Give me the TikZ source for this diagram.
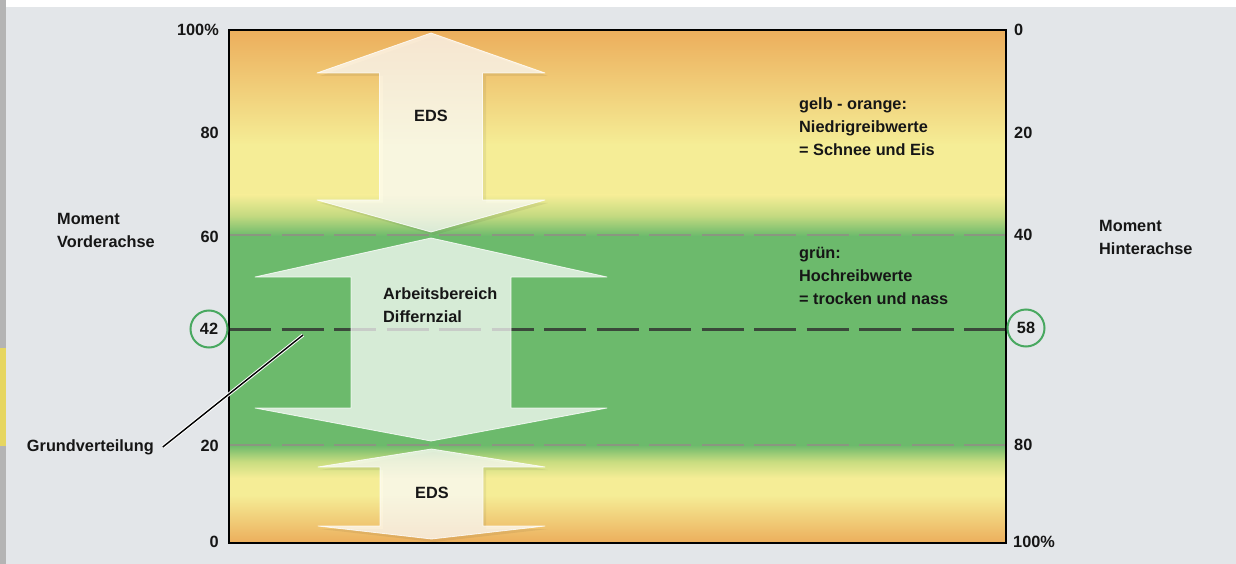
\documentclass[tikz,border=0pt]{standalone}
\usepackage{fontspec}
\setmainfont{Liberation Sans}
\definecolor{bg}{RGB}{227,230,233}
\definecolor{strip}{RGB}{180,180,180}
\definecolor{stripy}{RGB}{230,214,96}
\definecolor{orng}{RGB}{236,174,92}
\definecolor{yell}{RGB}{245,237,150}
\definecolor{grn}{RGB}{108,186,108}
\definecolor{txt}{RGB}{22,22,22}
\definecolor{circg}{RGB}{72,168,96}
\definecolor{dashlight}{RGB}{138,150,128}
\definecolor{dashdark}{RGB}{58,72,58}
\begin{document}
\begin{tikzpicture}[x=1pt,y=-1pt,
  lbl/.style={font=\bfseries\fontsize{16.3}{23}\selectfont, text=txt, inner sep=0pt},
  circ/.style={lbl, circle, draw=circg, line width=2pt, minimum size=37pt},
  gridline/.style={draw=dashlight, line width=2pt, dash pattern=on 42pt off 10.5pt},
  baseline42/.style={draw=dashdark, line width=3pt, dash pattern=on 42pt off 10.5pt},
  bigarrow/.style={fill=white, fill opacity=0.72, draw=white, draw opacity=0.8, line width=0.8pt, line join=round}]
\useasboundingbox (0,0) rectangle (1236,564);
% page
\fill[bg] (0,0) rectangle (1236,564);
\fill[white] (6,0) rectangle (1236,7);
\fill[strip] (0,0) rectangle (6,564);
\fill[stripy] (0,348) rectangle (6,446);
% chart bands
\shade[top color=orng, bottom color=yell] (229,30) rectangle (1006,145);
\fill[yell] (229,144.5) rectangle (1006,195.5);
\shade[top color=yell, bottom color=grn, middle color={rgb,255:red,196;green,218;blue,128}] (229,195) rectangle (1006,236);
\fill[grn] (229,235.5) rectangle (1006,445.5);
\shade[top color=grn, bottom color=yell, middle color={rgb,255:red,200;green,220;blue,128}] (229,445) rectangle (1006,478);
\fill[yell] (229,477.5) rectangle (1006,495.5);
\shade[top color=yell, bottom color=orng] (229,495) rectangle (1006,543);
% grid lines
\draw[gridline] (229,235) -- (1006,235);
\draw[gridline] (229,445) -- (1006,445);
\draw[baseline42] (229,329) -- (1006,329);
% arrows
\fill[black, opacity=0.06] (434,36) -- (548,76) -- (486,76) -- (486,203) -- (548,203) -- (434,235) -- (320,203) -- (383,203) -- (383,76) -- (320,76) -- cycle;
\path[bigarrow] (431,33) -- (545,73) -- (482.5,73) -- (482.5,200) -- (545,200) -- (431,232) -- (317,200) -- (379.5,200) -- (379.5,73) -- (317,73) -- cycle;
\path[bigarrow] (431,238) -- (607,277) -- (511,277) -- (511,408) -- (607,408) -- (431,441) -- (255,408) -- (351,408) -- (351,277) -- (255,277) -- cycle;
\fill[black, opacity=0.06] (434,452) -- (548,470) -- (486,470) -- (486,529) -- (548,529) -- (434,542) -- (320,529) -- (383,529) -- (383,470) -- (320,470) -- cycle;
\path[bigarrow] (431.5,449) -- (545,467) -- (483,467) -- (483,526) -- (545,526) -- (431.5,539) -- (318,526) -- (380,526) -- (380,467) -- (318,467) -- cycle;
% chart border
\draw[black, line width=2.6pt] (229,30) rectangle (1006,543);
% left axis
\node[lbl, anchor=east] (l100) at (219,30) {100\%};
\node[lbl, anchor=east] (l80) at (219,133) {80};
\node[lbl, anchor=east] (l60) at (219,237) {60};
\node[lbl, anchor=east] (l20) at (219,446) {20};
\node[lbl, anchor=east] (l0) at (219,542) {0};
\node[circ] (c42) at (209,329) {42};
% right axis
\node[lbl, anchor=west] (r0) at (1014,30) {0};
\node[lbl, anchor=west] (r20) at (1014,133) {20};
\node[lbl, anchor=west] (r40) at (1014,235) {40};
\node[lbl, anchor=west] (r80) at (1014,445) {80};
\node[lbl, anchor=west] (r100) at (1013,542) {100\%};
\node[circ] (c58) at (1026,328) {58};
% side titles
\node[lbl, align=left, anchor=north west] (mv) at (57,213) {Moment\\Vorderachse};
\node[lbl, align=left, anchor=north west] (mh) at (1099,220) {Moment\\Hinterachse};
% inside texts
\node[lbl] (eds1) at (431,116) {EDS};
\node[lbl] (eds2) at (432,493) {EDS};
\node[lbl, align=left, anchor=north west] (ab) at (383,287) {Arbeitsbereich\\Differnzial};
\node[lbl, align=left, anchor=north west] (gelb) at (799,97) {gelb - orange:\\Niedrigreibwerte\\= Schnee und Eis};
\node[lbl, align=left, anchor=north west] (gruen) at (799,247) {grün:\\Hochreibwerte\\= trocken und nass};
% Grundverteilung with leader
\node[lbl, anchor=west, outer xsep=9pt] (gv) at (18,447) {Grundverteilung};
\coordinate (gvtip) at (303,335);
\draw[white, line width=3.4pt] (gv.east) -- (gvtip);
\draw[black, line width=1.4pt] (gv.east) -- (gvtip);
\end{tikzpicture}
\end{document}
